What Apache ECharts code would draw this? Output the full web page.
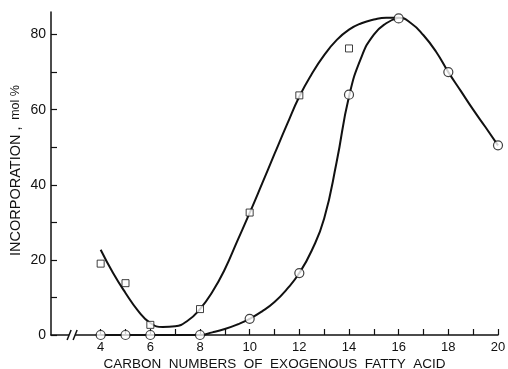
<!DOCTYPE html>
<html>
<head>
<meta charset="utf-8">
<script src="https://cdn.jsdelivr.net/npm/echarts@6/dist/echarts.min.js"></script>
<style>
    html, body {margin: 0; padding: 0; background: #fff;}
    #chart {width: 508px; height: 369px;}
</style>
</head>
<body>
<div id="chart"></div>
<script>
// measured points
const circleX = [4, 5, 6, 8, 10, 12, 14, 16, 18, 20];
const circleY = [0, 0, 0, 0, 4.3, 16.5, 64, 84.3, 70, 50.5];
const squareX = [4, 5, 6, 8, 10, 12, 14];
const squareY = [19, 13.8, 2.7, 6.9, 32.6, 63.8, 76.3];

// hand-drawn fitted curves
const upperX = [4, 4.5, 5, 5.5, 6, 6.5, 7, 7.5, 8, 8.5, 9, 9.5, 10, 10.5, 11, 11.5, 12, 12.5, 13, 13.5, 14, 14.5, 15, 15.5, 16, 16.5, 17, 17.5, 18, 18.5, 19, 19.5, 20];
const upperY = [22.7, 16.5, 11.2, 6.5, 3.2, 2.1, 2.3, 3.8, 6.9, 11.5, 17.5, 25, 32.5, 40.3, 48.2, 56, 63.5, 69.5, 74.5, 78.5, 81.3, 83, 84, 84.5, 84.5, 83, 79.8, 75.5, 70, 65, 60, 55.3, 50.5];
const lowerX = [4, 6, 8, 8.5, 9, 9.5, 10, 10.5, 11, 11.5, 12, 12.5, 13, 13.5, 14, 14.5, 15, 15.5, 16];
const lowerY = [0, 0, 0, 0.7, 1.6, 2.8, 4.3, 6.3, 8.8, 12.2, 16.5, 22.5, 31, 46, 63.5, 74, 80, 83, 84.5];

const xTicks = [4, 5, 6, 7, 8, 9, 10, 11, 12, 13, 14, 15, 16, 17, 18, 19, 20];
const xLabels = [4, 6, 8, 10, 12, 14, 16, 18, 20];
const yTicks = [0, 10, 20, 30, 40, 50, 60, 70, 80];
const yLabels = [0, 20, 40, 60, 80];

const zip = (xs, ys) => xs.map((x, i) => [x, ys[i]]);

const font = "'Liberation Sans', Arial, sans-serif";
const ink = "#111";

const chart = echarts.init(document.getElementById("chart"));

const lineSeries = (data) => ({
    type: "line",
    data: data,
    smooth: 0.5,
    showSymbol: false,
    silent: true,
    lineStyle: {color: ink, width: 2},
    z: 2
});

chart.setOption({
    animation: false,
    backgroundColor: "#fff",
    grid: {left: 51, right: 10, top: 12, bottom: 34, containLabel: false, outerBoundsMode: "none"},
    xAxis: {
        type: "value",
        min: 2,
        max: 20,
        name: "CARBON  NUMBERS  OF  EXOGENOUS  FATTY  ACID",
        nameLocation: "middle",
        nameGap: 22,
        nameMoveOverlap: false,
        nameTextStyle: {color: ink, fontFamily: font, fontSize: 13.5},
        splitLine: {show: false},
        axisLine: {lineStyle: {color: ink, width: 1.5}},
        axisTick: {inside: true, length: 6, customValues: xTicks, lineStyle: {color: ink, width: 1.2}},
        axisLabel: {customValues: xLabels, color: ink, fontFamily: font, fontSize: 13, margin: 6}
    },
    yAxis: {
        type: "value",
        min: 0,
        max: 86,
        name: "{a|INCORPORATION ,}  {b|mol %}",
        nameLocation: "middle",
        nameGap: 28,
        nameMoveOverlap: false,
        nameTextStyle: {
            color: ink,
            fontFamily: font,
            padding: [0, 0, 0, 6],
            rich: {
                a: {fontSize: 14.5, fontFamily: font, color: ink},
                b: {fontSize: 12.5, fontFamily: font, color: ink}
            }
        },
        splitLine: {show: false},
        axisLine: {show: true, lineStyle: {color: ink, width: 1.5}},
        axisTick: {show: true, inside: true, length: 6, customValues: yTicks, lineStyle: {color: ink, width: 1.2}},
        axisLabel: {customValues: yLabels, color: ink, fontFamily: font, fontSize: 14, margin: 5}
    },
    series: [
        lineSeries(zip(upperX, upperY)),
        lineSeries(zip(lowerX, lowerY)),
        {
            type: "scatter",
            data: zip(squareX, squareY),
            symbol: "rect",
            symbolSize: 7,
            itemStyle: {color: "#fff", borderColor: ink, borderWidth: 1},
            z: 3
        },
        {
            type: "scatter",
            data: zip(circleX, circleY),
            symbol: "circle",
            symbolSize: 9,
            itemStyle: {color: "#fff", borderColor: ink, borderWidth: 1.2},
            z: 4
        }
    ]
});

// axis break marks "//"
const p = chart.convertToPixel({gridIndex: 0}, [2.85, 0]);
chart.setOption({
    graphic: [
        {type: "rect", shape: {x: p[0] - 3, y: p[1] - 3, width: 6, height: 6}, style: {fill: "#fff"}, z: 10},
        {type: "line", shape: {x1: p[0] - 5, y1: p[1] + 5, x2: p[0] - 1, y2: p[1] - 5}, style: {stroke: ink, lineWidth: 1.5}, z: 11},
        {type: "line", shape: {x1: p[0] + 1, y1: p[1] + 5, x2: p[0] + 5, y2: p[1] - 5}, style: {stroke: ink, lineWidth: 1.5}, z: 11}
    ]
});
</script>
</body>
</html>
